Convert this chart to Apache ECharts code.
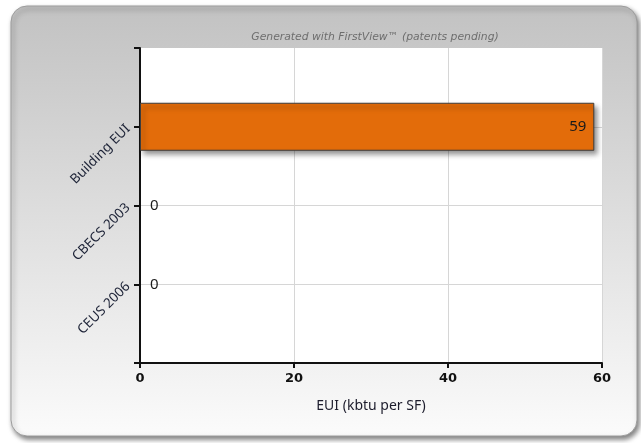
<!DOCTYPE html>
<html><head><meta charset="utf-8">
<script src="https://cdn.jsdelivr.net/npm/echarts@6/dist/echarts.min.js"></script>
<style>html,body{margin:0;padding:0;background:#fff}#c{width:641px;height:443px}</style>
</head><body><div id="c"></div>
<script>
var categories = ['', 'Building EUI', 'CBECS 2003', 'CEUS 2006', ''];
var values = ['-', 59, 0, 0, '-'];
var xTicks = { min: 0, max: 60, interval: 20 };
var subtitle = 'Generated with FirstView\u2122 (patents pending)';
var axisName = 'EUI (kbtu per SF)';

var chart = echarts.init(document.getElementById('c'), null, {renderer: 'canvas'});
var seriesData = values.map(function (v) {
  if (v === '-') return '-';
  if (v === 0) {
    return { value: v, itemStyle: { shadowBlur: 0, shadowOffsetX: 0, shadowOffsetY: 0, shadowColor: 'transparent', borderWidth: 0 },
             label: { position: 'right', distance: 10 } };
  }
  return { value: v, label: { position: 'insideRight', distance: 8 } };
});
chart.setOption({
  animation: false,
  graphic: [{
    type: 'rect', z: -100, silent: true,
    shape: { x: 11, y: 6, width: 626, height: 430, r: 16 },
    style: {
      fill: new echarts.graphic.LinearGradient(0, 0, 0, 1, [
        { offset: 0, color: '#c2c2c2' }, { offset: 1, color: '#fbfbfb' }
      ]),
      stroke: '#9c9c9c', lineWidth: 1,
      shadowBlur: 5, shadowOffsetX: 2, shadowOffsetY: 3, shadowColor: 'rgba(0,0,0,0.5)'
    }
  }],
  title: {
    text: subtitle, left: 370, top: 27, textAlign: 'center',
    textStyle: { fontSize: 10.8, fontStyle: 'italic', fontWeight: 'normal', color: '#6e6e6e', fontFamily: 'DejaVu Sans' }
  },
  grid: { left: 140, top: 48, right: 39, bottom: 80, show: true, backgroundColor: '#ffffff', borderWidth: 0 },
  xAxis: {
    type: 'value', min: xTicks.min, max: xTicks.max, interval: xTicks.interval,
    name: axisName, nameLocation: 'middle', nameGap: 36,
    nameTextStyle: { fontSize: 14, color: '#1c1c2c', fontFamily: 'Noto Sans' },
    axisLine: { show: true, lineStyle: { color: '#111', width: 2 } },
    axisTick: { show: true, length: 5, lineStyle: { color: '#111', width: 2 } },
    axisLabel: { fontSize: 13, fontWeight: 'bold', color: '#111', margin: 9, fontFamily: 'DejaVu Sans' },
    splitLine: { show: true, lineStyle: { color: '#d6d6d6', width: 1 } }
  },
  yAxis: {
    type: 'category', data: categories, inverse: true, boundaryGap: false,
    axisLine: { show: true, onZero: false, lineStyle: { color: '#111', width: 2 } },
    axisTick: { show: true, length: 6, interval: 0, lineStyle: { color: '#111', width: 2 } },
    axisLabel: { interval: 0, rotate: 45, fontSize: 13.5, color: '#1c2236', margin: 12, fontFamily: 'Noto Sans' },
    splitLine: { show: true, interval: function (i) { return i > 0 && i < 4; }, lineStyle: { color: '#d6d6d6', width: 1 } }
  },
  series: [{
    type: 'bar', data: seriesData, barWidth: 48,
    itemStyle: {
      color: '#e36c0a', borderColor: '#3c3c3c', borderWidth: 1,
      shadowBlur: 5, shadowOffsetX: 3, shadowOffsetY: 4, shadowColor: 'rgba(0,0,0,0.45)'
    },
    label: { show: true, fontSize: 15, color: '#1a1a1a', fontFamily: 'Noto Sans' }
  }]
});
</script></body></html>
